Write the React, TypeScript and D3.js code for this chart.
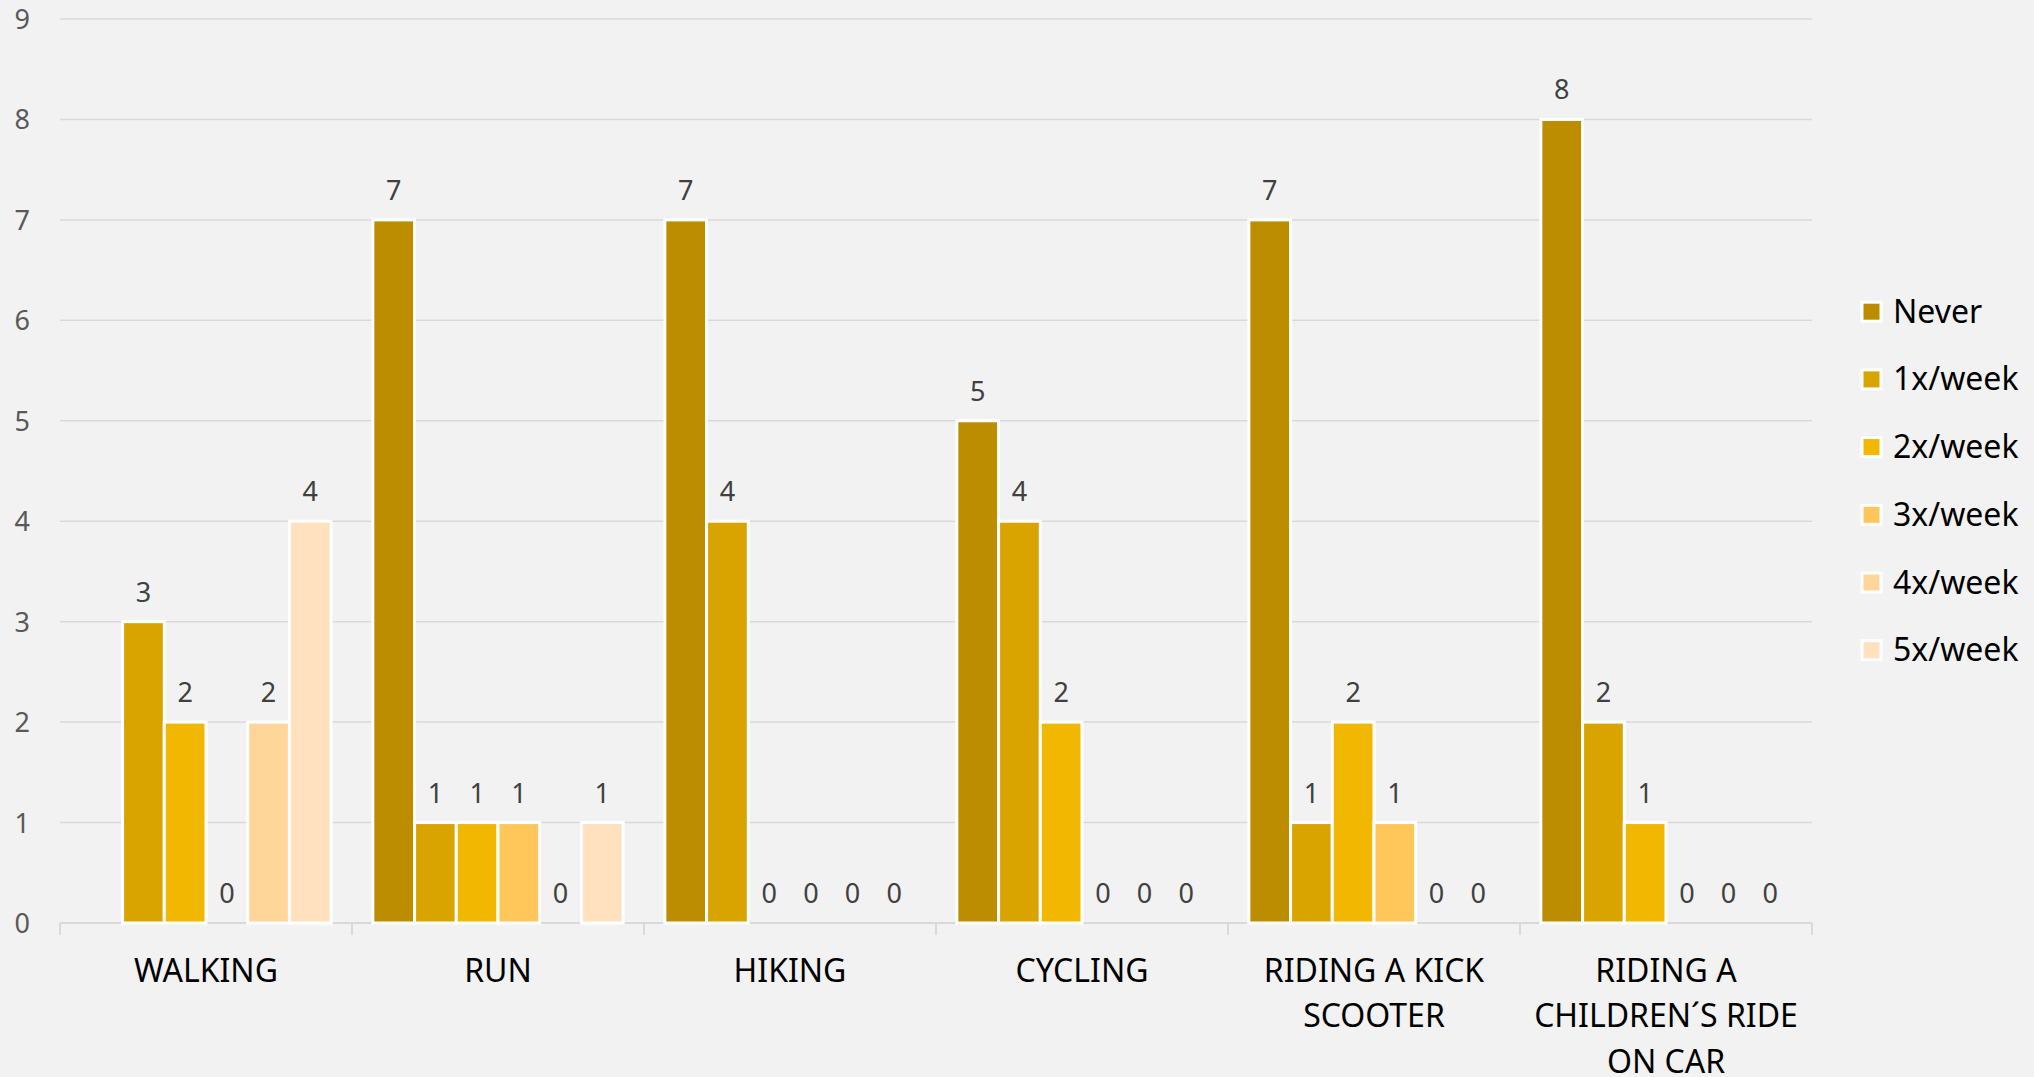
import React from "react";
import * as d3 from "d3";

const categories: string[][] = [
  ["WALKING"],
  ["RUN"],
  ["HIKING"],
  ["CYCLING"],
  ["RIDING A KICK", "SCOOTER"],
  ["RIDING A", "CHILDREN´S RIDE", "ON CAR"],
];
const seriesNames = ["Never", "1x/week", "2x/week", "3x/week", "4x/week", "5x/week"];
const seriesColors = ["#BD8D00", "#D9A300", "#F2B700", "#FFC759", "#FFD699", "#FFE1BF"];
const never: (number | null)[] = [null, 7, 7, 5, 7, 8];
const once: number[] = [3, 1, 4, 4, 1, 2];
const twice: number[] = [2, 1, 0, 2, 2, 1];
const thrice: number[] = [0, 1, 0, 0, 1, 0];
const fourTimes: number[] = [2, 0, 0, 0, 0, 0];
const fiveTimes: number[] = [4, 1, 0, 0, 0, 0];
const seriesValues: (number | null)[][] = [never, once, twice, thrice, fourTimes, fiveTimes];
const yTicks = [0, 1, 2, 3, 4, 5, 6, 7, 8, 9];

const W = 2034;
const H = 1077;
const left = 60;
const right = 1812;
const top = 19;
const bottom = 923;
const font = "'Noto Sans', 'Open Sans', sans-serif";

export default function App() {
  const x = d3.scaleBand<number>().domain(categories.map((_, i) => i)).range([left, right]).padding(0);
  const inner = d3
    .scaleBand<number>()
    .domain(seriesNames.map((_, i) => i))
    .range([0, x.bandwidth()])
    .paddingInner(0)
    .paddingOuter(0.5);
  const y = d3.scaleLinear().domain([0, 9]).range([bottom, top]);

  return (
    <svg width={W} height={H} style={{ position: "absolute", left: 0, top: 0, background: "#F2F2F2" }}>
      <rect x={0} y={0} width={W} height={H} fill="#F2F2F2" />
      {yTicks.map((t) => (
        <g key={t}>
          {t > 0 && <line x1={left} x2={right} y1={y(t)} y2={y(t)} stroke="#D9D9D9" strokeWidth={1.5} />}
          <text x={30} y={y(t) + 10} textAnchor="end" fontFamily={font} fontSize={27} fill="#595959">
            {t}
          </text>
        </g>
      ))}
      <line x1={left} x2={right} y1={bottom} y2={bottom} stroke="#D9D9D9" strokeWidth={2} />
      {d3.range(categories.length + 1).map((i) => {
        const xx = i < categories.length ? (x(i) as number) : right;
        return <line key={i} x1={xx} x2={xx} y1={bottom} y2={bottom + 12} stroke="#D9D9D9" strokeWidth={2} />;
      })}
      {seriesValues.map((vals, s) =>
        vals.map((v, c) => {
          if (v === null) return null;
          const bx = (x(c) as number) + (inner(s) as number);
          const bw = inner.bandwidth();
          return (
            <g key={`${s}-${c}`}>
              {v > 0 && (
                <rect
                  x={bx}
                  y={y(v)}
                  width={bw}
                  height={y(0) - y(v)}
                  fill={seriesColors[s]}
                  stroke="#FFFFFF"
                  strokeWidth={3}
                />
              )}
              <text
                x={bx + bw / 2}
                y={y(v) - 20}
                textAnchor="middle"
                fontFamily={font}
                fontSize={27}
                fill="#404040"
              >
                {v}
              </text>
            </g>
          );
        })
      )}
      {categories.map((lines, c) => (
        <text
          key={c}
          x={(x(c) as number) + x.bandwidth() / 2}
          textAnchor="middle"
          fontFamily={font}
          fontSize={32}
          fill="#000000"
        >
          {lines.map((l, k) => (
            <tspan key={k} x={(x(c) as number) + x.bandwidth() / 2} y={981.5 + k * 45.6}>
              {l}
            </tspan>
          ))}
        </text>
      ))}
      {seriesNames.map((n, s) => {
        const cy = 311.7 + s * 67.7;
        return (
          <g key={n}>
            <rect x={1862} y={cy - 9.5} width={19} height={19} fill={seriesColors[s]} stroke="#FFFFFF" strokeWidth={3} />
            <text x={1893} y={cy + 11} fontFamily={font} fontSize={32} fill="#000000">
              {n}
            </text>
          </g>
        );
      })}
    </svg>
  );
}
